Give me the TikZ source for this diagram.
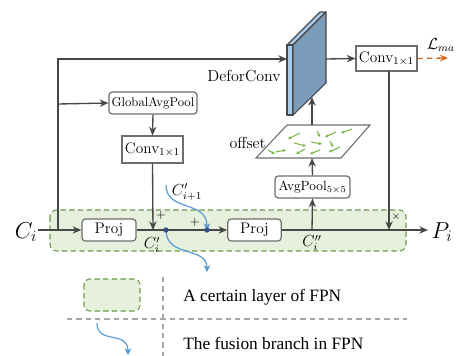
\documentclass[tikz,border=0pt]{standalone}
\usepackage{fontspec}
\newfontfamily\timesf{Liberation Serif}
\usetikzlibrary{arrows.meta}
\definecolor{lc}{HTML}{474747}
\definecolor{bc}{HTML}{6E6E6E}
\definecolor{gfill}{HTML}{E6F0DD}
\definecolor{gedge}{HTML}{6A9A4A}
\definecolor{bluec}{HTML}{5B9BD5}
\definecolor{dotc}{HTML}{2F4F8F}
\definecolor{darkface}{HTML}{7B9DBB}
\definecolor{lightface}{HTML}{A9CBEA}
\definecolor{orangec}{HTML}{D2691E}
\definecolor{greena}{HTML}{7AB648}
\begin{document}
\begin{tikzpicture}[x=0.75pt,y=-0.75pt,
  ln/.style={draw=lc, line width=1pt},
  arr/.style={ln,-{Stealth[length=6.5pt,width=5.5pt]}},
  rbox/.style={draw=bc, fill=white, line width=0.9pt, rounded corners=2.5pt, inner sep=0pt},
  sbox/.style={draw=bc, fill=white, line width=0.9pt, inner sep=0pt},
  bcurve/.style={draw=bluec, line width=0.9pt, -{Stealth[length=5pt,width=5pt,inset=1.5pt]}},
  garr/.style={draw=greena, line width=0.8pt, -{Stealth[length=2.5pt,width=2.5pt]}},
  lbl/.style={inner sep=0pt, font=\fontsize{12}{14}\selectfont},
  leg/.style={inner sep=0pt, anchor=west, font=\timesf\fontsize{13}{15}\selectfont},
  gdash/.style={draw=gray!70, line width=0.8pt, dash pattern=on 4pt off 3pt}]
\useasboundingbox (0,0) rectangle (457,356);

% green layer box
\draw[gedge, fill=gfill, line width=0.8pt, dash pattern=on 4pt off 2.5pt, rounded corners=5pt] (50,210) rectangle (406,251);

% boxes
\node[rbox, minimum width=66pt, minimum height=16.5pt, font=\fontsize{9.5}{11}\selectfont] (gap) at (153,103) {GlobalAvgPool};
\node[sbox, minimum width=45.75pt, minimum height=20.25pt, font=\fontsize{11.5}{13}\selectfont] (conv1) at (152.5,149.5) {Conv$_{1\times1}$};
\node[rbox, minimum width=40.5pt, minimum height=16.5pt, font=\fontsize{11.5}{13}\selectfont] (proj1) at (109,230) {Proj};
\node[rbox, minimum width=40pt, minimum height=16.5pt, font=\fontsize{11.5}{13}\selectfont] (proj2) at (254.5,230) {Proj};
\node[rbox, minimum width=56.25pt, minimum height=16.5pt, font=\fontsize{10}{12}\selectfont] (avg) at (312.5,187) {AvgPool$_{5\times5}$};
\node[sbox, minimum width=45.75pt, minimum height=18.75pt, font=\fontsize{11.5}{13}\selectfont] (conv2) at (386.5,58.5) {Conv$_{1\times1}$};

% deformable conv slab
\draw[lc, line width=0.8pt, fill=lightface, line join=round] (287,45) -- (320,12) -- (326,12) -- (293,45) -- cycle;
\draw[lc, line width=0.8pt, fill=lightface, line join=round] (287,45) -- (293,45) -- (293,115) -- (287,115) -- cycle;
\draw[lc, line width=0.8pt, fill=darkface, line join=round] (293,45) -- (326,12) -- (326,83) -- (293,115) -- cycle;
\node[lbl, anchor=east] (dlabel) at (281,76) {DeforConv};

% offset plane
\draw[bc, line width=0.8pt, fill=white] (287,125) -- (370,125) -- (341,158) -- (256,158) -- cycle;
\node[lbl, anchor=east] (olabel) at (266,143) {offset};
\draw[garr] (300,133) -- (288,139);
\draw[garr] (317,131) -- (320,137);
\draw[garr] (336,132) -- (325,137);
\draw[garr] (352,129) -- (341,133);
\draw[garr] (294,143) -- (306,146);
\draw[garr] (311,142) -- (322,144);
\draw[garr] (330,141) -- (333,147);
\draw[garr] (276,152) -- (286,150);
\draw[garr] (305,149) -- (296,154);
\draw[garr] (320,150) -- (310,154);
\draw[garr] (340,147) -- (329,152);
\draw[garr] (268,150) -- (275,154);

% coordinates
\coordinate (cin) at (38,230);
\coordinate (j1) at (58,230);
\coordinate (j2) at (58,104);
\coordinate (slabin) at (287,59);
\coordinate (slabout) at (326,59);
\coordinate (add1) at (153,230);
\coordinate (cpp) at (312,230);
\coordinate (planebot) at (312,158);
\coordinate (planetop) at (312,125);
\coordinate (slabbot) at (312,97);
\coordinate (c2b) at (389,71);
\coordinate (mul) at (389,230);
\coordinate (pout) at (428,230);
\coordinate (lend) at (448,58);
\coordinate (d1) at (166,230);
\coordinate (d2) at (207,230);

% connectors
\draw[arr] (cin) -- (proj1.west);
\draw[arr] (j1) |- (slabin);
\draw[arr] (j2) -- (gap.west);
\draw[arr] (gap.south) -- (conv1.north);
\draw[arr] (conv1.south) -- (add1);
\draw[arr] (proj1.east) -- (proj2.west);
\draw[arr] (proj2.east) -- (pout);
\draw[arr] (cpp) -- (avg.south);
\draw[arr] (avg.north) -- (planebot);
\draw[arr] (planetop) -- (slabbot);
\draw[arr] (slabout) -- (conv2.west);
\draw[arr] (c2b) -- (mul);
\draw[draw=orangec, line width=1pt, dash pattern=on 4pt off 3pt, -{Stealth[length=6pt,width=5pt]}] (conv2.east) -- (lend);

% fusion branches
\draw[bcurve] (166,185) .. controls (166,212) and (207,200) .. (d2);
\draw[bcurve] (d1) .. controls (166,258) and (207,246) .. (207,272);
\fill[dotc] (d1) circle (2pt);
\fill[dotc] (d2) circle (2pt);

% labels
\node[inner sep=0pt, font=\fontsize{17}{19}\selectfont] (ci) at (26,232) {$C_i$};
\node[inner sep=0pt, font=\fontsize{17}{19}\selectfont] (pi) at (442,232) {$P_i$};
\node[inner sep=0pt, font=\fontsize{11.5}{13}\selectfont] (cil) at (152,245) {$C_i'$};
\node[inner sep=0pt, font=\fontsize{11.5}{13}\selectfont] (cipp) at (312,243) {$C_i''$};
\node[inner sep=0pt, font=\fontsize{11.5}{13}\selectfont] (cnext) at (187,192) {$C_{i+1}'$};
\node[inner sep=0pt, font=\fontsize{9}{11}\selectfont] (p1) at (161,216) {$+$};
\node[inner sep=0pt, font=\fontsize{9}{11}\selectfont] (p2) at (195,222) {$+$};
\node[inner sep=0pt, font=\fontsize{8}{10}\selectfont] (x1) at (396,217) {$\times$};
\node[inner sep=0pt, font=\fontsize{12}{14}\selectfont] (lma) at (441,45) {$\mathcal{L}_{ma}$};

% legend
\draw[gedge, fill=gfill, line width=0.8pt, dash pattern=on 4pt off 2.5pt, rounded corners=4pt] (84,279) rectangle (140,311);
\draw[gdash] (163,277) -- (163,356);
\draw[gdash] (67,319) -- (407,319);
\draw[bcurve] (97,323) .. controls (97,345) and (128,330) .. (128,355);
\node[leg] (l1) at (183,297) {A certain layer of FPN};
\node[leg] (l2) at (183,343) {The fusion branch in FPN};
\end{tikzpicture}
\end{document}
